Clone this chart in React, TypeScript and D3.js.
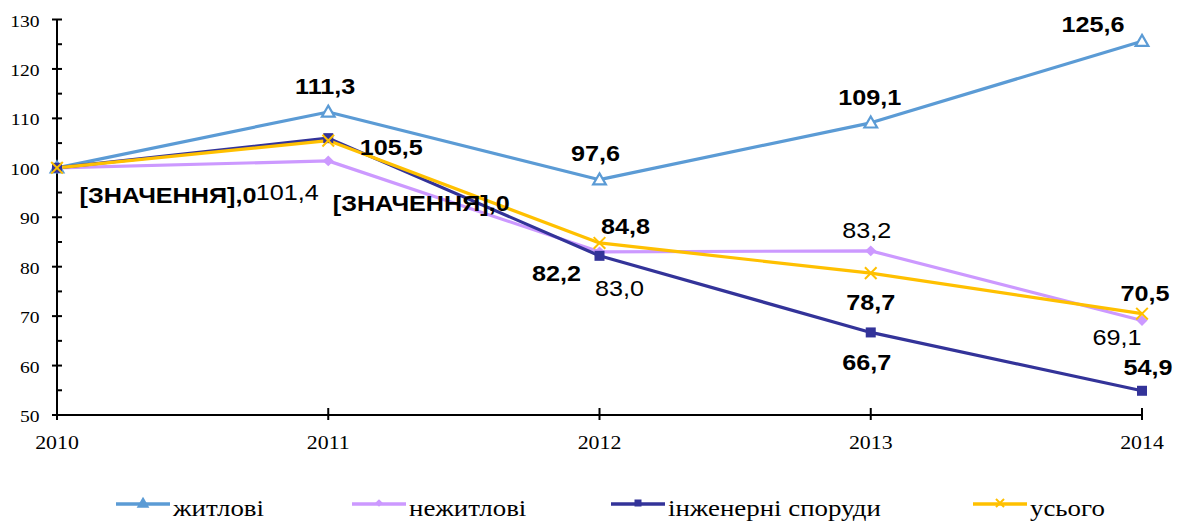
import React from 'react';
import * as d3 from 'd3';

const years = ['2010', '2011', '2012', '2013', '2014'];
const residential = [100, 111.3, 97.6, 109.1, 125.6];
const nonResidential = [100, 101.4, 83.0, 83.2, 69.1];
const engineering = [100, 106.0, 82.2, 66.7, 54.9];
const total = [100, 105.5, 84.8, 78.7, 70.5];
const seriesNames = ['житлові', 'нежитлові', 'інженерні споруди', 'усього'];
const yTicks = [50, 60, 70, 80, 90, 100, 110, 120, 130];
const yMinorTicks = [55, 65, 75, 85, 95, 105, 115, 125];
const placeholder = '[ЗНАЧЕННЯ],0';

// the source picture is a little stretched sideways, so is the text
const STRETCH = 1.12;

// label offsets from the point (label centre), null = no label
type Off = [number, number] | null;
const series = [
  {
    name: seriesNames[0], values: residential, color: '#5B9BD5', marker: 'triangle',
    offsets: [null, [-3, -26], [-4, -27], [-1, -26], [-49, -17]] as Off[],
    bold: [true, true, true, true, true],
    texts: [null, null, null, null, null] as (string | null)[],
  },
  {
    name: seriesNames[1], values: nonResidential, color: '#CC99FF', marker: 'diamond',
    offsets: [null, [-41, 31], [20, 36], [-4, -21], [-25, 16]] as Off[],
    bold: [false, false, false, false, false],
    texts: [null, null, null, null, null] as (string | null)[],
  },
  {
    name: seriesNames[2], values: engineering, color: '#333399', marker: 'square',
    offsets: [[111, 27], [93, 65], [-43, 17], [-4, 30], [6, -24]] as Off[],
    bold: [true, true, true, true, true],
    texts: [placeholder, placeholder, null, null, null] as (string | null)[],
  },
  {
    name: seriesNames[3], values: total, color: '#FFC000', marker: 'cross',
    offsets: [null, [63, 6], [26, -17], [0, 29], [3, -21]] as Off[],
    bold: [true, true, true, true, true],
    texts: [null, null, null, null, null] as (string | null)[],
  },
];

const fmt = (v: number) => d3.format('.1f')(v).replace('.', ',');

const Marker = ({ type, x, y, color, small }: { type: string; x: number; y: number; color: string; small?: boolean }) => {
  const k = small ? 0.7 : 1;
  if (type === 'triangle') {
    const p = d3.symbol(d3.symbolTriangle, 70 * k * k)();
    return <path d={p || ''} transform={`translate(${x},${y + 1})`} fill={small ? color : '#fff'} stroke={color} strokeWidth={2.2} />;
  }
  if (type === 'diamond') {
    const p = d3.symbol(d3.symbolSquare, 60 * k * k)();
    return <path d={p || ''} transform={`translate(${x},${y}) rotate(45)`} fill={color} />;
  }
  if (type === 'square') {
    const s = 10 * k;
    return <rect x={x - s / 2} y={y - s / 2} width={s} height={s} fill={color} />;
  }
  const p = d3.symbol(d3.symbolX, 90 * k * k)();
  return <path d={p || ''} transform={`translate(${x},${y})`} fill="none" stroke={color} strokeWidth={2} />;
};

export default function App() {
  const W = 1177;
  const H = 521;
  const x = d3.scalePoint<string>().domain(years).range([57, 1142]);
  const y = d3.scaleLinear().domain([50, 130]).range([415, 19.5]);
  const line = d3.line<number>()
    .x((_, i) => x(years[i]) as number)
    .y(d => y(d));

  const legendX = [116, 352, 611, 973];
  const legendY = 504;

  return (
    <svg width={W} height={H} style={{ position: 'absolute', left: 0, top: 0, background: '#fff' }}>
      {/* axes */}
      <g stroke="#000" strokeWidth={2}>
        <line x1={57} x2={57} y1={y(130)} y2={y(50)} />
        <line x1={57} x2={x('2014')} y1={y(50)} y2={y(50)} />
        {yTicks.map(t => <line key={t} x1={52} x2={62} y1={y(t)} y2={y(t)} />)}
        {yMinorTicks.map(t => <line key={t} x1={57} x2={62} y1={y(t)} y2={y(t)} />)}
        {years.map(yr => <line key={yr} x1={x(yr)} x2={x(yr)} y1={y(50) - 7} y2={y(50) + 5} />)}
      </g>
      <g fontFamily="'Liberation Serif', serif" fill="#000">
        {yTicks.map(t => (
          <text key={t} transform={`translate(39.5,${y(t) + 1}) scale(${STRETCH},1)`} fontSize={17.5}
            textAnchor="end" dominantBaseline="central">{t}</text>
        ))}
        {years.map(yr => (
          <text key={yr} transform={`translate(${x(yr)},442) scale(${STRETCH},1)`} fontSize={19.5}
            textAnchor="middle" dominantBaseline="central">{yr}</text>
        ))}
      </g>

      {/* lines */}
      {series.map(s => (
        <path key={s.name} d={line(s.values) || ''} fill="none" stroke={s.color} strokeWidth={3.2} strokeLinejoin="round" />
      ))}
      {series.map(s => (
        <g key={s.name + 'm'}>
          {s.values.map((v, i) => (
            <Marker key={i} type={s.marker} x={x(years[i]) as number} y={y(v)} color={s.color} />
          ))}
        </g>
      ))}

      {/* data labels */}
      <g fontFamily="'Liberation Sans', Arial, sans-serif" fontSize={22.5} fill="#000">
        {series.map(s => s.values.map((v, i) => {
          const o = s.offsets[i];
          if (!o) return null;
          return (
            <text key={s.name + i}
              transform={`translate(${(x(years[i]) as number) + o[0]},${y(v) + o[1]}) scale(${STRETCH},1)`}
              textAnchor="middle" dominantBaseline="central" fontWeight={s.bold[i] ? 'bold' : 'normal'}>
              {s.texts[i] ?? fmt(v)}
            </text>
          );
        }))}
      </g>

      {/* legend */}
      {series.map((s, i) => (
        <g key={s.name + 'l'}>
          <line x1={legendX[i]} x2={legendX[i] + 54} y1={legendY} y2={legendY} stroke={s.color} strokeWidth={3.5} />
          <Marker type={s.marker} x={legendX[i] + 27} y={legendY - 1} color={s.color} small />
          <text transform={`translate(${legendX[i] + 57},516) scale(${STRETCH},1)`} fontFamily="'Liberation Serif', serif"
            fontSize={24} fill="#000">{s.name}</text>
        </g>
      ))}
    </svg>
  );
}
